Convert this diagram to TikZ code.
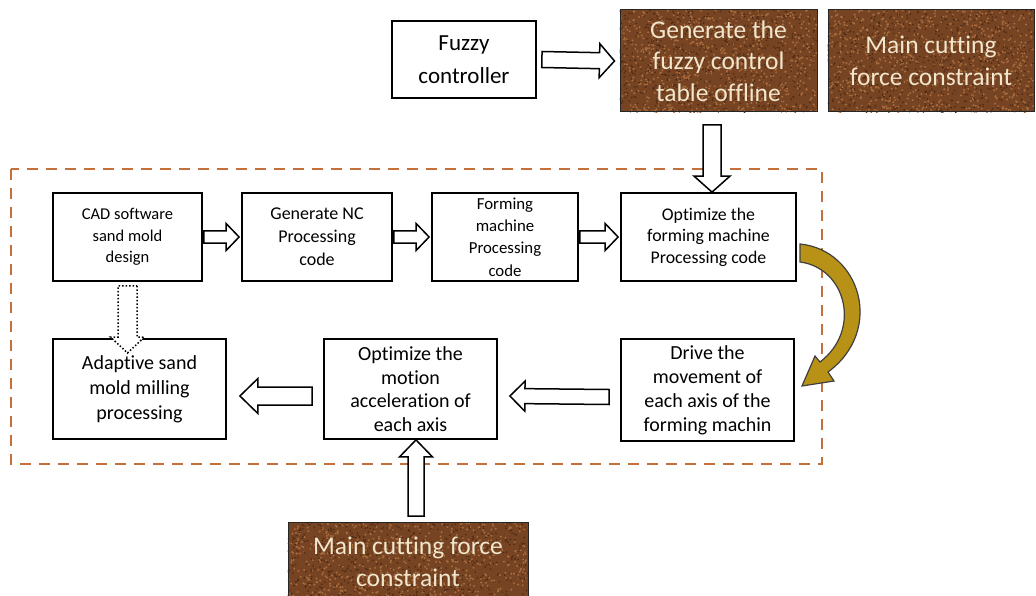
\documentclass[tikz,border=0pt]{standalone}
\usepackage{fontspec}
\setmainfont{Carlito}[Ligatures=NoCommon]
\usetikzlibrary{calc,backgrounds}
\definecolor{brownbox}{RGB}{118,68,34}
\definecolor{brownlt}{RGB}{168,108,62}
\definecolor{browndk}{RGB}{78,42,20}
\definecolor{boxtext}{RGB}{242,230,205}
\definecolor{dashc}{RGB}{196,112,58}
\definecolor{goldc}{RGB}{184,146,22}
\tikzset{
 wbox/.style={draw=black, line width=1.8pt, fill=white, align=center, inner sep=0pt},
 bbox/.style={draw=black!85, line width=1pt, text=boxtext, align=center, inner sep=0pt, font=\fontsize{25.5}{31.5}\selectfont},
 barrow/.style n args={3}{draw=black, line width=1.5pt, fill=white, line join=miter, to path={
   let \p1=(\tikztostart), \p2=(\tikztotarget),
       \n1={veclen(\x2-\x1,\y2-\y1)}, \n2={(\x2-\x1)/\n1}, \n3={(\y2-\y1)/\n1}
   in ({\x1-#1*\n3},{\y1+#1*\n2}) -- ({\x2-#3*\n2-#1*\n3},{\y2-#3*\n3+#1*\n2})
   -- ({\x2-#3*\n2-#2*\n3},{\y2-#3*\n3+#2*\n2}) -- (\p2)
   -- ({\x2-#3*\n2+#2*\n3},{\y2-#3*\n3-#2*\n2}) -- ({\x2-#3*\n2+#1*\n3},{\y2-#3*\n3-#1*\n2})
   -- ({\x1+#1*\n3},{\y1-#1*\n2}) -- cycle}},
 dashbox/.style={draw=dashc, line width=2.4pt, dash pattern=on 11pt off 8pt},
}
% textured brown background for a node: #1 name, #2 width, #3 height, #4 number of specks
\newcommand{\speckbox}[4]{%
  \fill[brownbox] (#1.south west) rectangle (#1.north east);
  \begin{scope}
    \clip (#1.south west) rectangle (#1.north east);
    \foreach \i in {1,...,#4} {
      \fill[brownlt] ($(#1.south west)+({rnd*#2},{-rnd*#3})$) circle (1.1pt);
      \fill[browndk] ($(#1.south west)+({rnd*#2},{-rnd*#3})$) circle (0.9pt);
    }
  \end{scope}}
\begin{document}
\begin{tikzpicture}[x=1pt,y=-1pt]
\pgfmathsetseed{7}
\useasboundingbox (0,0) rectangle (1036,596);
% dashed frame
\draw[dashbox] (11,169) rectangle (822,464);
% top row
\node[wbox, font=\fontsize{23}{33}\selectfont, minimum width=144pt, minimum height=77pt] (fuzzy) at (464,59.5) {Fuzzy\\controller};
\node[bbox, minimum width=197pt, minimum height=102pt] (gen) at (718.5,61) {Generate the\\fuzzy control\\table offline};
\node[bbox, minimum width=206pt, minimum height=102pt] (mcf1) at (931,61) {Main cutting\\force constraint};
% row 1
\node[wbox, font=\fontsize{16.5}{21.5}\selectfont, minimum width=149pt, minimum height=88pt] (cad) at (127.5,237) {CAD software\\sand mold\\design};
\node[wbox, font=\fontsize{18}{23}\selectfont, minimum width=150pt, minimum height=88pt] (gnc) at (317,237) {Generate NC\\Processing\\code};
\node[wbox, font=\fontsize{16.8}{22.3}\selectfont, minimum width=146pt, minimum height=88pt] (form) at (505,237) {Forming\\machine\\Processing\\code};
\node[wbox, font=\fontsize{17.8}{21.5}\selectfont, minimum width=175pt, minimum height=88pt] (optf) at (708.5,237) {Optimize the\\forming machine\\Processing code};
% row 2
\node[wbox, font=\fontsize{20}{25}\selectfont, minimum width=173pt, minimum height=100pt] (adapt) at (139.5,389) {Adaptive sand\\mold milling\\processing};
\node[wbox, font=\fontsize{20}{23.5}\selectfont, minimum width=173pt, minimum height=100pt] (motion) at (410.5,389) {Optimize the\\motion\\acceleration of\\each axis};
\node[wbox, font=\fontsize{20}{24}\selectfont, minimum width=173pt, minimum height=102pt] (drive) at (707.5,390) {Drive the\\movement of\\each axis of the\\forming machin};
% bottom
\node[bbox, minimum width=240pt, minimum height=80pt] (mcf2) at (408,562) {Main cutting force\\constraint};
% textures behind brown boxes
\begin{scope}[on background layer]
  \fill[white] (0,0) rectangle (1036,596);
  \speckbox{gen}{197}{102}{700}
  \speckbox{mcf1}{206}{102}{720}
  \speckbox{mcf2}{240}{80}{650}
\end{scope}
% arrows
\draw[barrow={8}{17}{15}] ([xshift=5pt]fuzzy.east) to ([xshift=-5pt]gen.west);
\coordinate (dtop) at (712,125);
\draw[barrow={9}{18}{16}] (dtop) to (optf.north -| dtop);
\draw[barrow={6}{13.5}{13}] ([xshift=1pt]cad.east) to ([xshift=-2pt]gnc.west);
\draw[barrow={6}{13.5}{13}] ([xshift=1pt]gnc.east) to ([xshift=-2pt]form.west);
\draw[barrow={6}{13.5}{13}] ([xshift=1pt]form.east) to ([xshift=-2pt]optf.west);
\draw[barrow={7.5}{15}{15}] ([xshift=-11pt,yshift=-7pt]drive.west) to ([xshift=12pt,yshift=-7pt]motion.east);
\draw[barrow={9}{17.5}{18}] ([xshift=-11pt,yshift=-7pt]motion.west) to ([xshift=13pt,yshift=-7pt]adapt.east);
\coordinate (dtip) at (127.5,353);
\draw[barrow={9.5}{17}{16}, dotted] ([yshift=-4pt]cad.south) to (dtip);
\coordinate (ubot) at (416,516);
\draw[barrow={8}{16.5}{17}] (ubot) to (motion.south -| ubot);
% curved arrow
\draw[fill=goldc, draw=black!75, line width=1.2pt, line join=miter]
  (800,244) .. controls (860,250) and (885,330) .. (828,372)
  -- (834,381) -- (802,386) -- (815,356) -- (820,362)
  .. controls (862,330) and (846,268) .. (800,262) -- cycle;
\end{tikzpicture}
\end{document}
